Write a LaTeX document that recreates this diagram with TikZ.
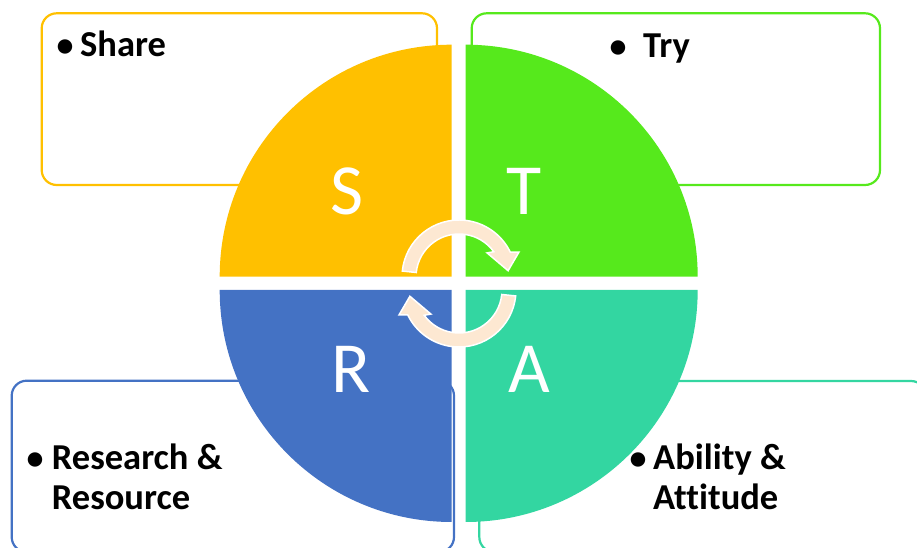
\documentclass[tikz,border=0pt]{standalone}
\usepackage{fontspec}
\setmainfont{Carlito}[Ligatures=NoCommon]
\definecolor{cOrange}{HTML}{FFC000}
\definecolor{cGreen}{HTML}{56E91C}
\definecolor{cBlue}{HTML}{4472C4}
\definecolor{cTeal}{HTML}{33D6A1}
\definecolor{cPeach}{HTML}{FDE8D2}
\tikzset{
  infobox/.style={draw, line width=2.2pt, rounded corners=15pt},
  bigletter/.style={text=white, font=\fontsize{72}{80}\selectfont, inner sep=0pt},
  itemtext/.style={font=\bfseries\fontsize{36.5}{40}\selectfont, inner sep=0pt, anchor=base west},
  bulletmark/.style={font=\bfseries\fontsize{34}{40}\selectfont, inner sep=0pt, anchor=base},
  cycarrow/.style={fill=cPeach, draw=white, line width=1.5pt, line join=miter}
}
\begin{document}
\begin{tikzpicture}[x=1pt,y=1pt]
\useasboundingbox (0,0) rectangle (917,548);
\clip (0,0) rectangle (917,548);
% boxes
\draw[infobox, cOrange] (41.7,363) rectangle (437,534.7);
\draw[infobox, cGreen] (471.7,363) rectangle (880,534.7);
\draw[infobox, cBlue] (11.7,-4) rectangle (454,167.3);
\draw[infobox, cTeal] (479.3,-4) rectangle (926,167);
% quadrants
\fill[cOrange] (451.7,271.3) -- ++(-232,0) arc[start angle=180, end angle=90, radius=232pt] -- cycle;
\fill[cGreen] (465.7,271.3) -- ++(0,232) arc[start angle=90, end angle=0, radius=232pt] -- cycle;
\fill[cBlue] (451.7,258) -- ++(0,-232) arc[start angle=270, end angle=180, radius=232pt] -- cycle;
\fill[cTeal] (465.7,258) -- ++(232,0) arc[start angle=0, end angle=-90, radius=232pt] -- cycle;
% letters
\node[bigletter, anchor=base] (S) at (346.7,333) {S};
\node[bigletter, anchor=base] (T) at (524.2,333) {T};
\node[bigletter, anchor=base] (R) at (351,155) {R};
\node[bigletter, anchor=base] (A) at (529,155) {A};
% circular arrows
\begin{scope}[shift={(459,271)}]
\draw[cycarrow] (174:57pt) arc[start angle=174, end angle=26, radius=57pt]
  -- (22.6:65pt) -- (7.3:49.5pt) -- (40.6:37pt) -- (36:43pt)
  arc[start angle=36, end angle=174, radius=43pt] -- cycle;
\end{scope}
\begin{scope}[shift={(459,258)}, rotate=180]
\draw[cycarrow] (174:57pt) arc[start angle=174, end angle=26, radius=57pt]
  -- (22.6:65pt) -- (7.3:49.5pt) -- (40.6:37pt) -- (36:43pt)
  arc[start angle=36, end angle=174, radius=43pt] -- cycle;
\end{scope}
% texts
\node[bulletmark] (b1) at (65,491.3) {•};
\node[itemtext] (t1) at (80,491.3) {Share};
\node[bulletmark] (b2) at (618,490) {•};
\node[itemtext] (t2) at (643,490) {Try};
\node[bulletmark] (b3) at (35,78) {•};
\node[itemtext] (t3) at (51.7,78) {Research \&};
\node[itemtext] (t3b) at (51.7,38) {Resource};
\node[bulletmark] (b4) at (638,78) {•};
\node[itemtext] (t4) at (653,78) {Ability \&};
\node[itemtext] (t4b) at (653,38) {Attitude};
\end{tikzpicture}
\end{document}
